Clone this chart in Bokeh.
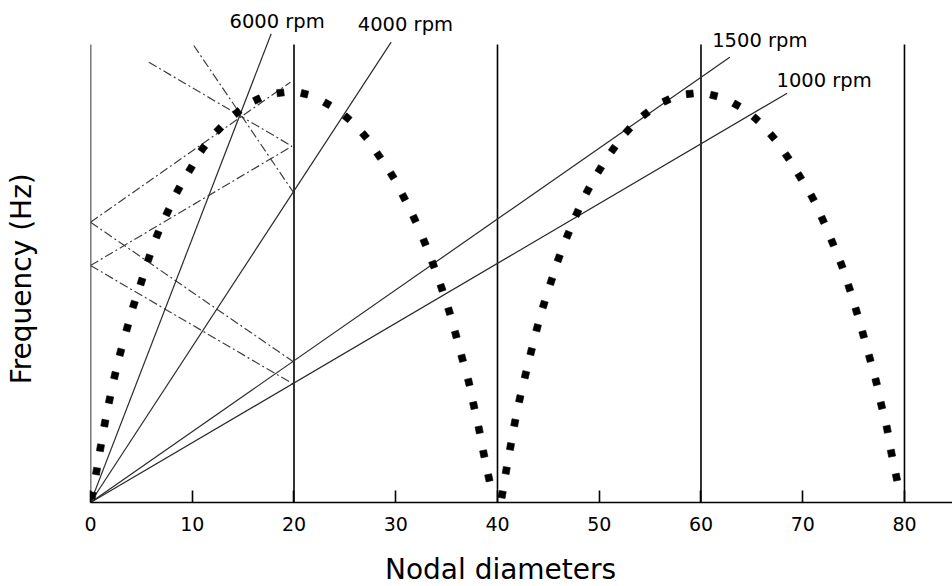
import numpy as np
from bokeh.plotting import figure
from bokeh.layouts import row, column
from bokeh.models import Range1d, FixedTicker, ColumnDataSource
from bokeh.core.properties import value
from bokeh.embed import file_html
from bokeh.resources import INLINE

# ---- data (x = nodal diameter, y = frequency in arbitrary units) ----
curve_x = [0.17, 0.59, 0.98, 1.41, 1.87, 2.39, 2.95, 3.61, 4.26, 5.01,
           5.73, 6.58, 7.57, 8.62, 9.83, 11.04, 12.61, 14.42, 16.38, 18.67,
           21.03, 23.26, 25.23, 26.93, 28.33, 29.65, 30.79, 31.84, 32.83, 33.68,
           34.50, 35.25, 35.90, 36.53, 37.18, 37.67, 38.20, 38.65, 39.15,
           40.46, 40.86, 41.28, 41.70, 42.19, 42.75, 43.31, 43.90, 44.55, 45.28,
           46.02, 46.91, 47.83, 48.87, 50.05, 51.37, 52.81, 54.55, 56.61, 58.90,
           61.26, 63.49, 65.39, 67.03, 68.47, 69.71, 70.96, 71.97, 72.92, 73.81,
           74.57, 75.28, 75.94, 76.59, 77.22, 77.74, 78.30, 78.72, 79.21]
curve_y = [7.0, 31.3, 54.7, 79.3, 102.7, 127.0, 150.3, 174.7, 198.0, 221.0,
           244.3, 268.0, 290.3, 312.7, 333.7, 354.0, 373.0, 390.0, 403.0, 409.7,
           408.7, 398.7, 384.7, 367.0, 347.0, 327.0, 305.3, 283.7, 260.3, 238.0,
           214.7, 191.3, 168.0, 144.3, 120.3, 97.0, 72.7, 48.7, 24.7,
           8.0, 32.0, 56.0, 79.7, 103.7, 127.7, 151.0, 174.7, 198.0, 221.3,
           244.3, 267.7, 289.7, 312.0, 333.0, 353.3, 372.0, 388.7, 402.0, 408.7,
           407.0, 397.7, 383.7, 366.0, 346.0, 326.0, 304.7, 282.7, 260.0, 237.7,
           214.7, 191.3, 168.0, 144.3, 120.7, 97.0, 73.3, 49.3, 25.3]

rpm_labels = ["6000 rpm", "4000 rpm", "1500 rpm", "1000 rpm"]
rpm_end_x = [17.76, 29.55, 62.83, 68.47]
rpm_end_y = [468.7, 460.3, 445.3, 409.3]
label_x = [13.66, 26.27, 61.10, 67.42]
label_y = [472.7, 469.3, 453.7, 413.7]

alias_x0 = [0.0, 0.0, 0.0, 0.0, 5.73, 10.15]
alias_y0 = [280.3, 237.0, 280.3, 237.0, 440.3, 457.0]
alias_x1 = [19.65, 19.8, 20.0, 20.0, 19.8, 20.0]
alias_y1 = [420.3, 356.3, 140.3, 118.0, 356.3, 309.3]

vline_x = [0, 20, 40, 60, 80]
vline_top = 458
x_ticks = [0, 10, 20, 30, 40, 50, 60, 70, 80]

x_label = "Nodal diameters"
y_label = "Frequency (Hz)"

FONT = "DejaVu Sans"
X_END = 84.72
STRIP = 80      # width of the y-title strip
PAD = 10        # left border of the main plot

# ---------------- main plot ----------------
p = figure(width=952 - STRIP, height=540, output_backend="svg", toolbar_location=None,
           x_range=Range1d(0, X_END), y_range=Range1d(0, 502),
           y_axis_location=None, min_border_left=PAD, min_border_right=0,
           min_border_top=0, min_border_bottom=38)
p.outline_line_color = None
p.grid.visible = False
p.background_fill_color = "white"
p.border_fill_color = "white"

ax = p.xaxis[0]
ax.ticker = FixedTicker(ticks=x_ticks)
ax.major_tick_in = 12
ax.major_tick_out = 0
ax.minor_tick_line_color = None
ax.axis_line_width = 1.6
ax.major_tick_line_width = 1.6
ax.axis_line_color = "black"
ax.major_tick_line_color = "black"
ax.major_label_text_font = FONT
ax.major_label_text_font_size = "19px"
ax.major_label_text_color = "black"
ax.major_label_standoff = 14

# vertical reference lines
p.segment(x0=vline_x, y0=[0] * len(vline_x), x1=vline_x, y1=[vline_top] * len(vline_x),
          line_color="black", line_width=1.6)

# aliased (reflected) excitation lines
p.segment(x0=alias_x0, y0=alias_y0, x1=alias_x1, y1=alias_y1,
          line_color="#404040", line_width=1.2, line_dash="9 3 2 3")

# engine-order lines
n = len(rpm_end_x)
p.segment(x0=[0] * n, y0=[0] * n, x1=rpm_end_x, y1=rpm_end_y,
          line_color="#2a2a2a", line_width=1.2)

# dispersion curve as rotated square dots
cx = np.array(curve_x)
cy = np.array(curve_y)
xs_px = cx * 862 / X_END
ang = np.zeros(len(cx))
splits = [0, 39, len(cx)]
for a, b in zip(splits[:-1], splits[1:]):
    gx = np.gradient(xs_px[a:b])
    gy = np.gradient(cy[a:b])
    ang[a:b] = np.arctan2(gy, gx)
src = ColumnDataSource(dict(x=cx, y=cy, a=ang))
p.scatter("x", "y", angle="a", source=src, marker="square", size=7,
          fill_color="black", line_color="black", line_width=0.6)

# rpm labels
p.text(x=label_x, y=label_y, text=rpm_labels, text_font=value(FONT),
       text_font_size="19.5px", text_color="black", text_align="left",
       text_baseline="alphabetic", y_offset=-8.5)

# ---------------- x-axis title strip ----------------
bx = figure(width=952 - STRIP, height=46, output_backend="svg", toolbar_location=None,
            x_range=p.x_range, y_range=Range1d(0, 46),
            x_axis_location=None, y_axis_location=None,
            min_border_left=PAD, min_border_right=0, min_border_top=0, min_border_bottom=0)
bx.outline_line_color = None
bx.grid.visible = False
bx.text(x=[40.3], y=[6], text=[x_label], text_font=value(FONT),
        text_font_size="28px", text_color="black", text_align="center",
        text_baseline="alphabetic", y_offset=-11)

# ---------------- y-axis title strip ----------------
ly = figure(width=STRIP, height=586, output_backend="svg", toolbar_location=None,
            x_range=Range1d(0, STRIP), y_range=Range1d(0, 586),
            x_axis_location=None, y_axis_location=None,
            min_border_left=0, min_border_right=0, min_border_top=0, min_border_bottom=0)
ly.outline_line_color = None
ly.grid.visible = False
ly.text(x=[31.7], y=[307.7], text=[y_label], text_font=value(FONT),
        text_font_size="28px", text_color="black", text_align="center",
        text_baseline="alphabetic", angle=np.pi / 2, x_offset=-11)

layout = row(ly, column(p, bx, spacing=0), spacing=0)
open("out.html", "w").write(file_html(layout, INLINE))
